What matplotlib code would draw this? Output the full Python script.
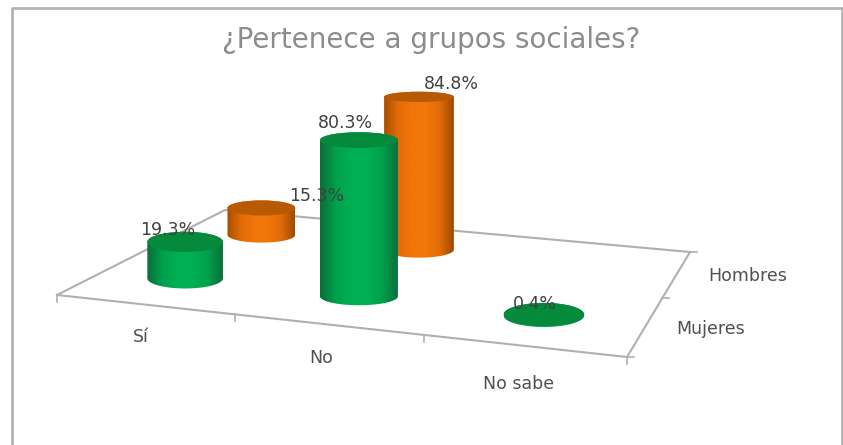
import numpy as np
import matplotlib
matplotlib.use("Agg")
import matplotlib.pyplot as plt
from matplotlib.colors import LinearSegmentedColormap
from matplotlib.patches import PathPatch, Ellipse
from matplotlib.path import Path

categories = ["Sí", "No", "No sabe"]
series_names = ["Mujeres", "Hombres"]
mujeres = [19.3, 80.3, 0.4]
hombres = [15.3, 84.8, None]
title = "¿Pertenece a grupos sociales?"

TEXT = "#505050"
AXIS = "#b0b0b0"

# floor corners of the 3D plot in figure pixels
P0 = np.array([57.0, 295.0])
P1 = np.array([627.0, 357.0])
P2 = np.array([690.0, 252.0])
P3 = np.array([225.0, 210.0])

# homography of the unit square onto the floor
d1 = P1 - P2
d2 = P3 - P2
s = P0 - P1 + P2 - P3
det = d1[0] * d2[1] - d1[1] * d2[0]
g = (s[0] * d2[1] - s[1] * d2[0]) / det
h = (d1[0] * s[1] - d1[1] * s[0]) / det
A = P1 - P0 + g * P1
B = P3 - P0 + h * P3


def floor(u, v):
    w = 1 + g * u + h * v
    return (A * u + B * v + P0) / w, w


green_map = LinearSegmentedColormap.from_list(
    "g", ["#0b6e38", "#00a04c", "#00b054", "#00b054", "#00a04c", "#0b7039"])
orange_map = LinearSegmentedColormap.from_list(
    "o", ["#a84e00", "#e06c08", "#f2760a", "#f2760a", "#e06c08", "#a04a00"])
TOPS = {"g": "#058a3c", "o": "#b85a04"}


def half_ellipse(cx, cy, rx, ry, start, stop):
    t = np.linspace(start, stop, 60)
    return np.column_stack([cx + rx * np.cos(t), cy + ry * np.sin(t)])


def cylinder(ax, i, j, value, cmap, top, z):
    u = (i + 0.5) / len(categories) - 0.008
    v = (j + 0.5) / len(series_names)
    (cx, base), w = floor(u, v)
    rx = 39.5 / w
    height = (1.97 + 0.07 * j) / w * value
    ratio = 0.29 - 0.05 * j - 0.0011 * value
    ry = rx * ratio
    ytop = base - height
    # y axis is inverted, so sin>0 is the lower half on screen
    bottom = half_ellipse(cx, base, rx, max(ry, rx * 0.23), 0, np.pi)
    upper = half_ellipse(cx, ytop, rx, ry, np.pi, 2 * np.pi)
    verts = np.vstack([bottom, upper, bottom[:1]])
    patch = PathPatch(Path(verts), fc="none", ec="none", zorder=z)
    ax.add_patch(patch)
    grad = np.linspace(0, 1, 128).reshape(1, -1)
    im = ax.imshow(grad, cmap=cmap, extent=[cx - rx, cx + rx, base + ry + 20, ytop - ry - 2],
                   aspect="auto", zorder=z, interpolation="bilinear")
    im.set_clip_path(patch)
    ax.add_patch(Ellipse((cx, ytop), 2 * rx, 2 * ry, fc=top, ec="none", zorder=z + 0.1))
    return cx, ytop - ry


fig = plt.figure(figsize=(8.43, 4.45), dpi=100)
ax = fig.add_axes([0, 0, 1, 1])
ax.set_xlim(0, 843)
ax.set_ylim(445, 0)
ax.axis("off")

# outer frame
ax.plot([11.5, 11.5, 842, 842], [445, 7.5, 7.5, 445], color="#b4b4b4", lw=2, zorder=1)

# floor outline
floor_pts = np.array([P0, P1, P2, P3, P0])
ax.plot(floor_pts[:, 0], floor_pts[:, 1], color=AXIS, lw=1.5, zorder=2)

# ticks along the category and series axes
for k in range(len(categories) + 1):
    p, _ = floor(k / len(categories), 0)
    ax.plot([p[0], p[0]], [p[1], p[1] + 7], color=AXIS, lw=1.2, zorder=2)
for k in range(len(series_names) + 1):
    p, _ = floor(1, k / len(series_names))
    ax.plot([p[0], p[0] + 7], [p[1], p[1]], color=AXIS, lw=1.2, zorder=2)

# back row first so the front row covers it
tops = {}
for i, val in enumerate(hombres):
    if val is not None:
        tops[(i, 1)] = cylinder(ax, i, 1, val, orange_map, TOPS["o"], 3 + i)
for i, val in enumerate(mujeres):
    tops[(i, 0)] = cylinder(ax, i, 0, val, green_map, TOPS["g"], 6 + i)

# data labels, nudged off the cylinder tops the way the original sits
label_nudge = {(0, 0): (-17, -2), (1, 0): (-13, -9), (2, 0): (-9, 1),
               (0, 1): (55, -4), (1, 1): (32, -8)}
for (i, j), (cx, ty) in tops.items():
    val = mujeres[i] if j == 0 else hombres[i]
    dx, dy = label_nudge[(i, j)]
    ax.text(cx + dx, ty + dy, f"{val}%", ha="center", va="center",
            fontsize=12.5, color="#404040", zorder=20)

# axis labels
cat_pos = [(141, 337), (321, 358), (519, 384)]
for name, (x, y) in zip(categories, cat_pos):
    ax.text(x, y, name, ha="center", va="center", fontsize=12.5, color=TEXT)
ser_pos = [(711, 329), (748, 276)]
for name, (x, y) in zip(series_names, ser_pos):
    ax.text(x, y, name, ha="center", va="center", fontsize=12.5, color=TEXT)

ax.text(431, 40, title, ha="center", va="center", fontsize=20, color="#8c8c8c")

fig.savefig("out.png", dpi=100)
